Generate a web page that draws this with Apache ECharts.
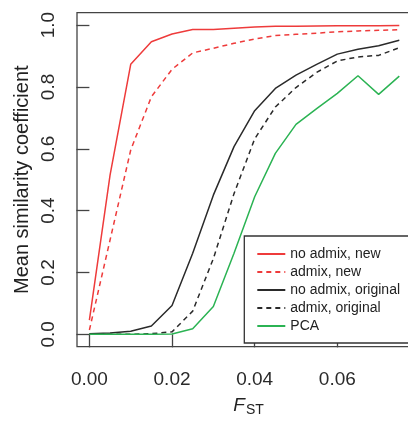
<!DOCTYPE html>
<html><head><meta charset="utf-8">
<script src="https://cdn.jsdelivr.net/npm/echarts@6/dist/echarts.min.js"></script>
<style>html,body{margin:0;padding:0;background:#fff}#c{width:408px;height:422px}</style>
</head><body><div id="c"></div>
<script>
const fst = [0, 0.005, 0.01, 0.015, 0.02, 0.025, 0.03, 0.035, 0.04, 0.045, 0.05, 0.055, 0.06, 0.065, 0.07, 0.075];
const noAdmixNew = [0.046, 0.515, 0.873, 0.946, 0.971, 0.986, 0.986, 0.990, 0.994, 0.996, 0.996, 0.997, 0.998, 0.998, 0.998, 0.999];
const admixNew = [0.014, 0.305, 0.596, 0.768, 0.857, 0.910, 0.925, 0.941, 0.955, 0.966, 0.970, 0.974, 0.978, 0.981, 0.983, 0.985];
const noAdmixOriginal = [0.002, 0.004, 0.010, 0.027, 0.093, 0.262, 0.450, 0.607, 0.723, 0.795, 0.838, 0.873, 0.906, 0.922, 0.933, 0.951];
const admixOriginal = [0.0, 0.0, 0.0, 0.002, 0.008, 0.075, 0.245, 0.455, 0.632, 0.735, 0.798, 0.847, 0.884, 0.897, 0.902, 0.927];
const pca = [0.0, 0.0, 0.0, 0.0, 0.001, 0.018, 0.090, 0.262, 0.445, 0.585, 0.679, 0.730, 0.779, 0.836, 0.776, 0.835];
const seriesNames = ['no admix, new', 'admix, new', 'no admix, original', 'admix, original', 'PCA'];
const xTicks = [0, 0.02, 0.04, 0.06];
const yTicks = [0, 0.2, 0.4, 0.6, 0.8, 1.0];

const RED = '#ee3b3b', BLACK = '#2a2a2a', GREEN = '#2bb353';
const FONT = 'Liberation Sans';
const pair = ys => fst.map((x, i) => [x, ys[i]]);
const mk = (name, ys, color, dashed) => ({
  name, type: 'line', data: pair(ys), symbol: 'none', showSymbol: false,
  lineStyle: { color, width: 1.5, type: dashed ? [5, 4] : 'solid' },
  itemStyle: { color }, emphasis: { disabled: true }
});

const chart = echarts.init(document.getElementById('c'));
chart.setOption({
  animation: false,
  backgroundColor: '#fff',
  grid: { left: 77, top: 12.7, width: 334.7, height: 334, show: true, borderColor: '#444', borderWidth: 1.3, backgroundColor: 'transparent', outerBoundsMode: 'none' },
  xAxis: {
    type: 'value', min: -0.003, max: 0.078,
    splitLine: { show: false }, axisLine: { show: false },
    axisTick: { show: true, length: 13, lineStyle: { color: '#444', width: 1.3 }, customValues: xTicks },
    axisLabel: { customValues: xTicks, formatter: v => v.toFixed(2), fontSize: 19, color: '#2a2a2a', margin: 24, fontFamily: FONT }
  },
  yAxis: {
    type: 'value', min: -0.04, max: 1.04,
    splitLine: { show: false }, axisLine: { show: false },
    axisTick: { show: true, length: 13, lineStyle: { color: '#444', width: 1.3 }, customValues: yTicks },
    axisLabel: { customValues: yTicks, formatter: v => v.toFixed(1), fontSize: 19, color: '#2a2a2a', margin: 19, rotate: 90, fontFamily: FONT }
  },
  legend: {
    orient: 'vertical', left: 244.3, top: 236, padding: [11, 40, 10, 12], itemGap: 4,
    itemWidth: 28, itemHeight: 14, borderColor: '#333', borderWidth: 1.3, backgroundColor: '#fff',
    itemStyle: { opacity: 0, color: 'transparent', borderColor: 'transparent', borderWidth: 0 },
    textStyle: { fontSize: 14, color: '#222', fontFamily: FONT }, data: seriesNames
  },
  series: [
    mk(seriesNames[0], noAdmixNew, RED, false),
    mk(seriesNames[1], admixNew, RED, true),
    mk(seriesNames[2], noAdmixOriginal, BLACK, false),
    mk(seriesNames[3], admixOriginal, BLACK, true),
    mk(seriesNames[4], pca, GREEN, false)
  ],
  graphic: [
    { type: 'text', x: 22, y: 179.7, rotation: Math.PI / 2, silent: true,
      style: { text: 'Mean similarity coefficient', fontSize: 20, fontFamily: FONT, fill: '#222', align: 'center', verticalAlign: 'middle' } },
    { type: 'text', x: 239, y: 405.5, silent: true,
      style: { text: 'F', fontSize: 19, fontStyle: 'italic', fontFamily: FONT, fill: '#222', align: 'center', verticalAlign: 'middle' } },
    { type: 'text', x: 246, y: 410, silent: true,
      style: { text: 'ST', fontSize: 14, fontFamily: FONT, fill: '#222', align: 'left', verticalAlign: 'middle' } }
  ]
});
</script></body></html>
